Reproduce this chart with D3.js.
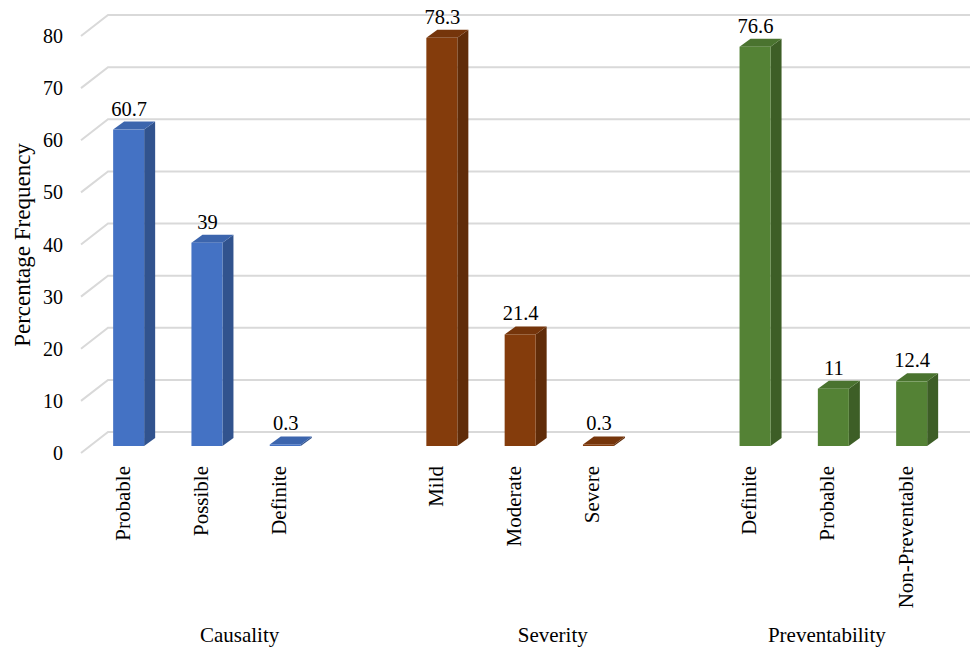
<!DOCTYPE html>
<html>
<head>
<meta charset="utf-8">
<script src="https://cdn.jsdelivr.net/npm/d3@7"></script>
<style>
  html, body { margin: 0; padding: 0; background: #fff; }
  svg { display: block; }
  text { font-family: "Liberation Serif", "Times New Roman", serif; fill: #000; }
</style>
</head>
<body>
<svg id="chart" width="972" height="647"></svg>
<script>
// ---- data ----
const groups = ["Causality", "Severity", "Preventability"];
const causalityLabels = ["Probable", "Possible", "Definite"];
const causalityValues = [60.7, 39, 0.3];
const severityLabels = ["Mild", "Moderate", "Severe"];
const severityValues = [78.3, 21.4, 0.3];
const preventabilityLabels = ["Definite", "Probable", "Non-Preventable"];
const preventabilityValues = [76.6, 11, 12.4];
const yTicks = [0, 10, 20, 30, 40, 50, 60, 70, 80];
const yTitle = "Percentage Frequency";
const groupColors = ["#4472C4", "#843C0C", "#548235"];

// ---- build slots (each group followed by an empty slot, as in the original) ----
const groupLabels = [causalityLabels, severityLabels, preventabilityLabels];
const groupValues = [causalityValues, severityValues, preventabilityValues];
const slots = [];
groups.forEach((g, gi) => {
  groupLabels[gi].forEach((lab, i) => {
    slots.push({ key: g + "|" + lab, group: g, gi, label: lab, value: groupValues[gi][i] });
  });
  if (gi < groups.length - 1) slots.push({ key: g + "|_gap", group: g, gi, label: null, value: null });
});

const svg = d3.select("#chart");

const x = d3.scaleBand()
  .domain(slots.map(d => d.key))
  .range([89.5, 89.5 + 11 * 78.3])
  .paddingInner(0.604)
  .paddingOuter(0.302);

const y = d3.scaleLinear().domain([0, 80]).range([446, 29]);

// 3D offsets
const backDx = 18, backDy = -14;   // from bar front plane to back wall
const frontDx = -9, frontDy = 7;   // from bar front plane to floor front edge
const barDx = 11, barDy = -8;      // bar depth

// ---- gridlines ----
const grid = svg.append("g");
yTicks.forEach(t => {
  const yb = y(t) + backDy, yf = y(t) + frontDy;
  const xb = 108, xf = 81;
  grid.append("path")
    .attr("d", `M${xf},${yf}L${xb},${yb}L970,${yb}`)
    .attr("fill", "none")
    .attr("stroke", "#d9d9d9")
    .attr("stroke-width", 2);
});

// ---- y tick labels ----
svg.append("g").selectAll("text").data(yTicks).join("text")
  .attr("x", 63)
  .attr("y", d => y(d) + frontDy)
  .attr("dy", "0.35em")
  .attr("text-anchor", "end")
  .attr("font-size", 20)
  .text(d => d);

// ---- y title ----
svg.append("text")
  .attr("transform", "translate(22,245) rotate(-90)")
  .attr("text-anchor", "middle")
  .attr("dy", "0.35em")
  .attr("font-size", 23)
  .text(yTitle);

// ---- bars ----
const bars = slots.filter(d => d.value !== null);
const bw = x.bandwidth();
const barG = svg.append("g").selectAll("g").data(bars).join("g");

// side face
barG.append("path")
  .attr("d", d => {
    const x1 = x(d.key) + bw, y0 = y(0), y1 = y(d.value);
    return `M${x1},${y0}L${x1 + barDx},${y0 + barDy}L${x1 + barDx},${y1 + barDy}L${x1},${y1}Z`;
  })
  .attr("fill", d => d3.color(groupColors[d.gi]).darker(0.9));
// top face
barG.append("path")
  .attr("d", d => {
    const x0 = x(d.key), x1 = x0 + bw, y1 = y(d.value);
    return `M${x0},${y1}L${x0 + barDx},${y1 + barDy}L${x1 + barDx},${y1 + barDy}L${x1},${y1}Z`;
  })
  .attr("fill", d => d3.color(groupColors[d.gi]).darker(0.35));
// front face
barG.append("rect")
  .attr("x", d => x(d.key))
  .attr("y", d => y(d.value))
  .attr("width", bw)
  .attr("height", d => y(0) - y(d.value))
  .attr("fill", d => groupColors[d.gi]);

// value labels
barG.append("text")
  .attr("x", d => x(d.key) + bw / 2 + 0.5)
  .attr("y", d => y(d.value) - 14)
  .attr("text-anchor", "middle")
  .attr("font-size", 20.5)
  .text(d => d.value);

// ---- category labels ----
svg.append("g").selectAll("text").data(bars).join("text")
  .attr("transform", d => `translate(${x(d.key) + 9},466) rotate(-90)`)
  .attr("text-anchor", "end")
  .attr("dy", "0.35em")
  .attr("font-size", 21)
  .text(d => d.label);

// ---- group labels ----
const groupCenters = groups.map((g, gi) => {
  const ks = slots.filter(s => s.gi === gi).map(s => x(s.key) + 9);
  return { g, cx: (d3.min(ks) + d3.max(ks)) / 2 };
});
svg.append("g").selectAll("text").data(groupCenters).join("text")
  .attr("x", d => d.cx)
  .attr("y", 642)
  .attr("text-anchor", "middle")
  .attr("font-size", 21)
  .text(d => d.g);
</script>
</body>
</html>
